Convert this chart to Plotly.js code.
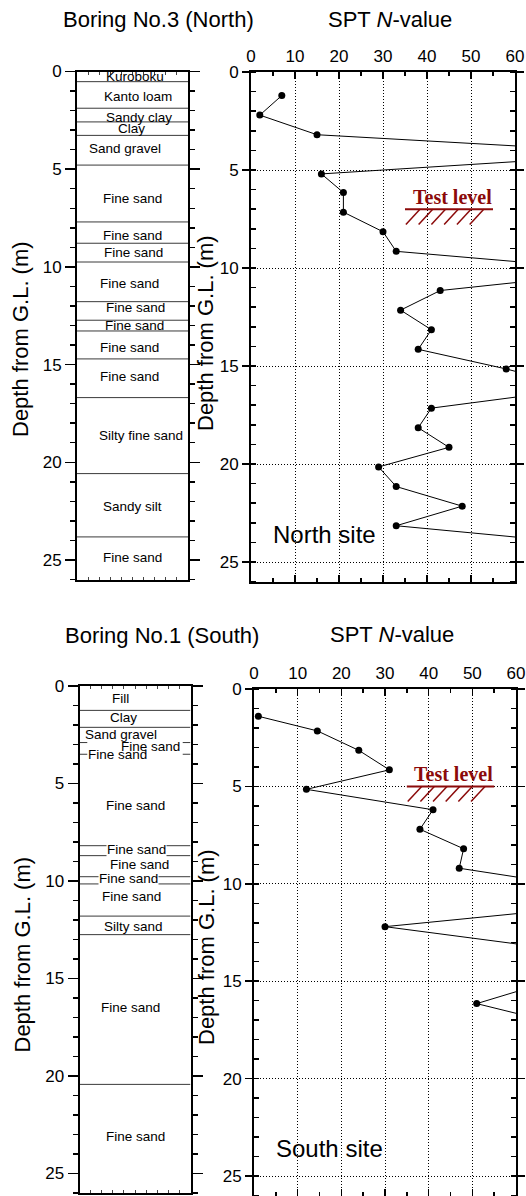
<!DOCTYPE html>
<html>
<head>
<meta charset="utf-8">
<script src="https://cdn.plot.ly/plotly-3.0.1.min.js"></script>
<style>html,body{margin:0;padding:0;background:#fff;}#chart{width:526px;height:1196px;}</style>
</head>
<body>
<div id="chart"></div>
<script>
// ---------- DATA ----------
// North site (Boring No.3)
const northLayerBounds = [0.52, 1.88, 2.58, 3.27, 4.79, 7.7, 8.79, 9.75, 11.78, 12.73, 13.28, 14.71, 16.69, 20.58, 23.82];
const northLayerNames = ['Kuroboku','Kanto loam','Sandy clay','Clay','Sand gravel','Fine sand','Fine sand','Fine sand','Fine sand','Fine sand','Fine sand','Fine sand','Fine sand','Silty fine sand','Sandy silt','Fine sand'];
const northLabelDepth = [0.28, 1.29, 2.33, 2.93, 3.95, 6.49, 8.37, 9.27, 10.85, 12.1, 13.02, 14.13, 15.63, 18.65, 22.25, 24.85];
const northSptDepth = [1.2, 2.2, 3.2, 4.15, 5.2, 6.15, 7.15, 8.15, 9.15, 10.15, 11.15, 12.15, 13.15, 14.15, 15.15, 16.15, 17.15, 18.15, 19.15, 20.15, 21.15, 22.15, 23.15, 24.15];
const northSptN = [7, 2, 15, 90, 16, 21, 21, 30, 33, 85, 43, 34, 41, 38, 58, 75, 41, 38, 45, 29, 33, 48, 33, 80];
const northTestLevel = 7.0;

// South site (Boring No.1)
const southLayerBounds = [1.25, 2.12, 8.19, 8.7, 9.78, 10.15, 11.8, 12.75, 20.43];
const southLensBounds = [2.9, 3.5];   // thin lens, marked only at the column edges
const southLayerNames = ['Fill','Clay','Sand gravel','Fine sand','Fine sand','Fine sand','Fine sand','Fine sand','Fine sand','Fine sand','Silty sand','Fine sand','Fine sand'];
const southLabelDepth = [0.63, 1.61, 2.48, 3.11, 3.49, 6.15, 8.41, 9.14, 9.88, 10.8, 12.31, 16.48, 23.08];
const southSptDepth = [1.4, 2.15, 3.15, 4.15, 5.15, 6.2, 7.2, 8.2, 9.2, 10.2, 11.2, 12.2, 13.2, 15.2, 16.15, 17.2];
const southSptN = [1, 14.5, 24, 31, 12, 41, 38, 48, 47, 76, 75, 30, 64, 65, 51, 70];
const southTestLevel = 5.0;

const depthTicks = [0, 5, 10, 15, 20, 25];
const nTicks = [0, 10, 20, 30, 40, 50, 60];
const testLevelSpan = [35, 55];

// ---------- LAYOUT HELPERS (placement only) ----------
const northLabelX = [0.52,0.55,0.56,0.49,0.43,0.50,0.50,0.51,0.47,0.53,0.52,0.47,0.47,0.58,0.50,0.50];
const southLabelX = [0.37,0.40,0.37,0.64,0.34,0.50,0.51,0.54,0.44,0.47,0.49,0.46,0.50];
const southLabelMasked = [0,0,0,0,0,0,1,0,1,0,0,0,0];

const W = 526, H = 1196;
const SANS = 'Liberation Sans, Arial, Helvetica, sans-serif';
const SERIF = 'Liberation Serif, Times New Roman, serif';
const RED = '#8b0a0a';
const px = v => v / W;
const py = v => 1 - v / H;

function boundaryTrace(bounds, xa, ya) {
  const x = [], y = [];
  bounds.forEach(b => { x.push(0, 1, null); y.push(b, b, null); });
  return {type:'scatter', mode:'lines', x, y, xaxis:xa, yaxis:ya,
    line:{color:'#3a3a3a', width:1}, hoverinfo:'skip', showlegend:false};
}
function lensTrace(bounds, xa, ya) {
  const x = [], y = [];
  bounds.forEach(b => { x.push(0, 0.07, null, 0.93, 1, null); y.push(b, b, null, b, b, null); });
  return {type:'scatter', mode:'lines', x, y, xaxis:xa, yaxis:ya,
    line:{color:'#3a3a3a', width:1}, hoverinfo:'skip', showlegend:false};
}
function sptTrace(n, d, xa, ya) {
  return {type:'scatter', mode:'lines+markers', x:n, y:d, xaxis:xa, yaxis:ya,
    line:{color:'#000', width:1}, marker:{color:'#000', size:7},
    cliponaxis:true, showlegend:false};
}

const traces = [
  boundaryTrace(northLayerBounds, 'x', 'y'),
  sptTrace(northSptN, northSptDepth, 'x2', 'y2'),
  boundaryTrace(southLayerBounds, 'x3', 'y3'),
  lensTrace(southLensBounds, 'x3', 'y3'),
  sptTrace(southSptN, southSptDepth, 'x4', 'y4')
];

function logX(domain, anchor) {
  return {domain, anchor, range:[0,1], showticklabels:false, ticks:'inside', ticklen:3,
    tick0:0, dtick:0.1, showline:true, linewidth:2, linecolor:'#000', mirror:'allticks',
    showgrid:false, zeroline:false, fixedrange:true};
}
function logY(domain, anchor) {
  return {domain, anchor, range:[26,0], tickmode:'array', tickvals:depthTicks,
    ticks:'outside', ticklen:10, tickwidth:1.5, tickcolor:'#000',
    minor:{dtick:1, tick0:0, ticks:'outside', ticklen:5, tickwidth:1.5, tickcolor:'#000'},
    showline:true, linewidth:2, linecolor:'#000', mirror:'allticks',
    showgrid:false, zeroline:false, tickfont:{family:SANS, size:17, color:'#000'}, fixedrange:true};
}
function sptX(domain, anchor) {
  return {domain, anchor, side:'top', range:[0,60], tickmode:'array', tickvals:nTicks,
    ticks:'inside', ticklen:7, tickwidth:1.5, tickcolor:'#000',
    minor:{dtick:5, tick0:0, ticks:'inside', ticklen:4, tickwidth:1.5, tickcolor:'#000'},
    showline:true, linewidth:2, linecolor:'#000', mirror:'allticks',
    showgrid:true, gridcolor:'#000', gridwidth:1, griddash:'1px,2px',
    zeroline:false, tickfont:{family:SANS, size:17, color:'#000'}, ticklabelstandoff:1, fixedrange:true};
}
function sptY(domain, anchor) {
  return {domain, anchor, range:[26,0], tickmode:'array', tickvals:depthTicks,
    ticks:'outside', ticklen:7, tickwidth:1.5, tickcolor:'#000',
    minor:{dtick:1, tick0:0, ticks:'inside', ticklen:5, tickwidth:1.5, tickcolor:'#000'},
    showline:true, linewidth:2, linecolor:'#000', mirror:'allticks',
    showgrid:true, gridcolor:'#000', gridwidth:1, griddash:'1px,2px',
    zeroline:false, tickfont:{family:SANS, size:17, color:'#000'}, fixedrange:true};
}

const annotations = [];
function layerLabels(names, depths, xs, xa, ya, masked) {
  names.forEach((t, i) => {
    const a = {text:t, x:xs[i], y:depths[i], xref:xa, yref:ya, showarrow:false,
      xanchor:'center', yanchor:'middle', font:{family:SANS, size:13.5, color:'#000'}};
    if (masked && masked[i]) { a.bgcolor = '#fff'; a.borderpad = 0; }
    annotations.push(a);
  });
}
layerLabels(northLayerNames, northLabelDepth, northLabelX, 'x', 'y', null);
layerLabels(southLayerNames, southLabelDepth, southLabelX, 'x3', 'y3', southLabelMasked);

function title(text, x, y, angle) {
  annotations.push({text, x:px(x), y:py(y), xref:'paper', yref:'paper', showarrow:false,
    xanchor:'center', yanchor:'middle', textangle:angle || 0,
    font:{family:SANS, size:22, color:'#000'}});
}
title('Boring No.3 (North)', 158, 19);
title('SPT <i>N</i>-value', 390, 19);
title('Boring No.1 (South)', 162, 635);
title('SPT <i>N</i>-value', 392, 634);
title('Depth from G.L. (m)', 20, 339, -90);
title('Depth from G.L. (m)', 205, 333, -90);
title('Depth from G.L. (m)', 21.5, 955, -90);
title('Depth from G.L. (m)', 206.5, 947.5, -90);

annotations.push({text:'North site', x:4.5, y:23.6, xref:'x2', yref:'y2', showarrow:false,
  xanchor:'left', yanchor:'middle', font:{family:SANS, size:24, color:'#000'}});
annotations.push({text:'South site', x:4.6, y:23.6, xref:'x4', yref:'y4', showarrow:false,
  xanchor:'left', yanchor:'middle', font:{family:SANS, size:24, color:'#000'}});

const shapes = [];
function testLevel(depth, xa, ya) {
  const [a, b] = testLevelSpan;
  annotations.push({text:'<b>Test level</b>', x:(a + b) / 2 + 0.7, y:depth, xref:xa, yref:ya,
    showarrow:false, xanchor:'center', yanchor:'bottom', yshift:-1,
    font:{family:SERIF, size:20, color:RED}});
  shapes.push({type:'line', xref:xa, yref:ya, x0:a, x1:b, y0:depth, y1:depth,
    line:{color:RED, width:2}});
  for (let i = 0; i < 6; i++) {
    const xt = a + 3.4 + 2.9 * i;
    shapes.push({type:'line', xref:xa, yref:ya, x0:xt, y0:depth, x1:xt - 3.2, y1:depth + 0.78,
      line:{color:RED, width:1.5}});
  }
}
testLevel(northTestLevel, 'x2', 'y2');
testLevel(southTestLevel, 'x4', 'y4');

const layout = {
  width:W, height:H, margin:{l:0, r:0, t:0, b:0}, paper_bgcolor:'#fff', plot_bgcolor:'#fff',
  showlegend:false, hovermode:false,
  xaxis: logX([px(77), px(188)], 'y'),
  yaxis: logY([py(579.5), py(71.5)], 'x'),
  xaxis2: sptX([px(251), px(515)], 'y2'),
  yaxis2: sptY([py(581.6), py(72)], 'x2'),
  xaxis3: logX([px(79.5), px(190.5)], 'y3'),
  yaxis3: logY([py(1193), py(686)], 'x3'),
  xaxis4: sptX([px(254), px(516)], 'y4'),
  yaxis4: sptY([py(1195.5), py(689)], 'x4'),
  annotations, shapes
};

Plotly.newPlot('chart', traces, layout, {staticPlot:true, displayModeBar:false});
</script>
</body>
</html>
